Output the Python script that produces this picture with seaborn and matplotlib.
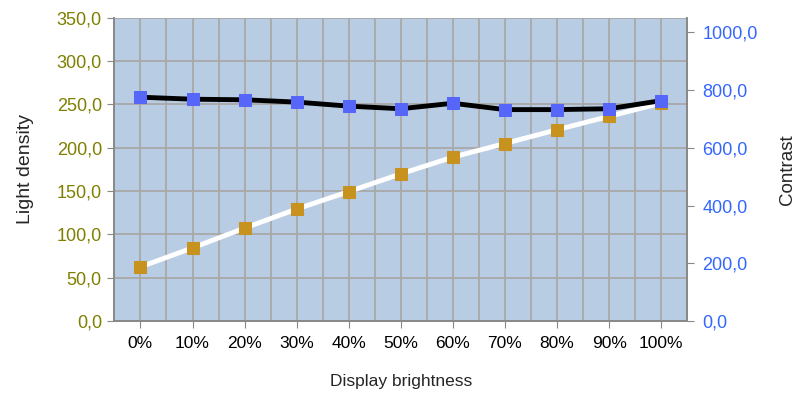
import numpy as np
import pandas as pd
import matplotlib
matplotlib.use("Agg")
import matplotlib.pyplot as plt
import seaborn as sns
from matplotlib.ticker import FuncFormatter, MultipleLocator

# values
brightness = ["0%", "10%", "20%", "30%", "40%", "50%", "60%", "70%", "80%", "90%", "100%"]
light_density = [62.5, 84.5, 107.3, 129.3, 149.4, 169.9, 189.2, 204.9, 220.8, 236.2, 251.5]
contrast = [775, 768, 766, 758, 744, 735, 754, 732, 732, 735, 763]

df = pd.DataFrame({
    "pos": np.arange(len(brightness)),
    "brightness": brightness,
    "light_density": light_density,
    "contrast": contrast,
})

sns.set_style("white")
plt.rcParams["font.family"] = ["Liberation Sans", "DejaVu Sans"]

fig = plt.figure(figsize=(8, 3.94), dpi=100)
ax = fig.add_axes([0.143, 0.185, 0.716, 0.77])
ax.set_facecolor("#b8cce4")

comma = FuncFormatter(lambda v, p: f"{v:.1f}".replace(".", ","))

# grid: category lines plus half-way lines, horizontal at left ticks
ax.set_xlim(-0.5, 10.5)
ax.set_ylim(0, 350)
ax.yaxis.set_major_locator(MultipleLocator(50))
ax.set_xticks(df["pos"])
ax.set_xticklabels(brightness)
ax.set_xticks(np.arange(-0.5, 10.6, 1.0), minor=True)
ax.grid(True, which="both", axis="x", color="#a8a8a8", linewidth=1.3)
ax.grid(True, which="major", axis="y", color="#a8a8a8", linewidth=1.3)
ax.set_axisbelow(True)

sns.lineplot(data=df, x="pos", y="light_density", ax=ax, color="white",
             linewidth=3.5, marker="s", markersize=8,
             markerfacecolor="#c8921e", markeredgecolor="#c8921e", zorder=3)

ax2 = ax.twinx()
ax2.set_ylim(0, 1050)
ax2.set_yticks(np.arange(0, 1001, 200))
sns.lineplot(data=df, x="pos", y="contrast", ax=ax2, color="black",
             linewidth=3.5, marker="s", markersize=8,
             markerfacecolor="#5566f8", markeredgecolor="#5566f8", zorder=3)
ax2.set_xlim(-0.5, 10.5)

ax.yaxis.set_major_formatter(comma)
ax2.yaxis.set_major_formatter(comma)

for a in (ax, ax2):
    for s in a.spines.values():
        s.set_color("#888888")
        s.set_linewidth(1.2)
    a.spines["top"].set_visible(False)

ax.tick_params(axis="y", colors="#888888", labelcolor="#7f7f00", labelsize=13,
               length=5, direction="out", left=True, pad=4)
ax.tick_params(axis="x", which="major", colors="#888888", labelcolor="black",
               labelsize=12.5, length=5, direction="out", bottom=True, pad=6)
ax.tick_params(axis="x", which="minor", length=0)
ax2.tick_params(axis="y", colors="#888888", labelcolor="#3366ff", labelsize=13,
                length=5, direction="out", right=True, pad=6)

ax.set_xlabel("Display brightness", fontsize=12.5, labelpad=16)
ax.set_ylabel("Light density", fontsize=14, labelpad=16)
ax2.set_ylabel("Contrast", fontsize=13.5, labelpad=15)

fig.savefig("out.png", dpi=100)
